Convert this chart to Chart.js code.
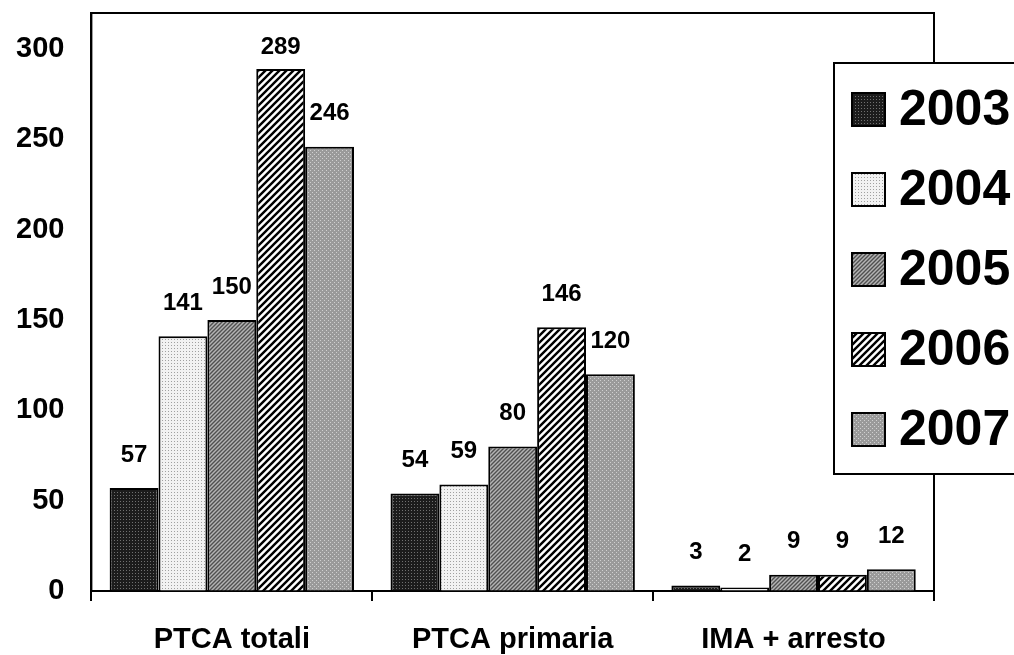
<!DOCTYPE html>
<html>
<head>
<meta charset="utf-8">
<title>PTCA 2003-2007</title>
<script src="https://cdn.jsdelivr.net/npm/chart.js@4/dist/chart.umd.min.js"></script>
<style>
  html, body { margin: 0; padding: 0; background: #fff; }
  #wrap { width: 1014px; height: 655px; }
</style>
</head>
<body>
<div id="wrap"><canvas id="ptcaChart" width="1014" height="655"></canvas></div>
<script>
// Chart data
const categories = ['PTCA totali', 'PTCA primaria', 'IMA + arresto'];
const years = ['2003', '2004', '2005', '2006', '2007'];
const v2003 = [57, 54, 3];
const v2004 = [141, 59, 2];
const v2005 = [150, 80, 9];
const v2006 = [289, 146, 9];
const v2007 = [246, 120, 12];
const yTicks = [0, 50, 100, 150, 200, 250, 300];

const FONT = '"Liberation Sans", Arial, Helvetica, sans-serif';

// small tiled fills that mimic the printed hatching
function makePattern(size, bg, fg, kind, lw) {
    const c = document.createElement('canvas');
    c.width = c.height = size;
    const g = c.getContext('2d');
    g.fillStyle = bg;
    g.fillRect(0, 0, size, size);
    g.fillStyle = fg;
    g.strokeStyle = fg;
    if (kind === 'dots') {
        g.fillRect(0, 0, 1, 1);
        if (size >= 4) g.fillRect(size / 2, size / 2, 1, 1);
    } else {
        g.lineWidth = lw || 1;
        g.beginPath();
        g.moveTo(-1, size + 1); g.lineTo(size + 1, -1);
        g.moveTo(-1, 1); g.lineTo(1, -1);
        g.moveTo(size - 1, size + 1); g.lineTo(size + 1, size - 1);
        g.stroke();
    }
    return g.createPattern(c, 'repeat');
}

const fills = [
    makePattern(3, '#1c1c1c', '#707070', 'dots'),
    makePattern(3, '#f2f2f2', '#a0a0a0', 'dots'),
    makePattern(4, '#b4b4b4', '#505050', 'diag', 1.4),
    makePattern(7, '#ffffff', '#000000', 'diag', 2.4),
    makePattern(4, '#9a9a9a', '#d0d0d0', 'dots')
];

const seriesValues = [v2003, v2004, v2005, v2006, v2007];

// value labels above each bar
const valueLabels = {
    id: 'valueLabels',
    afterDatasetsDraw(chart) {
        const ctx = chart.ctx;
        ctx.save();
        ctx.font = 'bold 24px ' + FONT;
        ctx.fillStyle = '#000';
        ctx.textAlign = 'center';
        ctx.textBaseline = 'middle';
        chart.data.datasets.forEach((ds, i) => {
            chart.getDatasetMeta(i).data.forEach((bar, j) => {
                const y = Math.max(bar.y - 33, 47);
                ctx.fillText(String(ds.data[j]), bar.x, y);
            });
        });
        ctx.restore();
    }
};

// plot frame (top + right edges) and the boxed legend overlapping it
const frameAndLegend = {
    id: 'frameAndLegend',
    afterDraw(chart) {
        const ctx = chart.ctx;
        const a = chart.chartArea;
        ctx.save();
        ctx.strokeStyle = '#000';
        ctx.lineWidth = 2;
        ctx.beginPath();
        ctx.moveTo(a.left, a.bottom);
        ctx.lineTo(a.left, a.top);
        ctx.lineTo(a.right, a.top);
        ctx.lineTo(a.right, a.bottom);
        ctx.stroke();

        // legend box
        const lx = 834, ly = 63, lh = 411;
        ctx.fillStyle = '#fff';
        ctx.fillRect(lx, ly, 200, lh);
        ctx.strokeRect(lx, ly, 200, lh);

        ctx.font = 'bold 50px ' + FONT;
        ctx.textAlign = 'left';
        ctx.textBaseline = 'middle';
        chart.data.datasets.forEach((ds, i) => {
            const cy = 110 + i * 80;
            ctx.fillStyle = ds.backgroundColor;
            ctx.fillRect(852, cy - 17, 33, 33);
            ctx.strokeRect(852, cy - 17, 33, 33);
            ctx.fillStyle = '#000';
            ctx.fillText(ds.label, 899, cy + 1);
        });
        ctx.restore();
    }
};

new Chart(document.getElementById('ptcaChart'), {
    type: 'bar',
    data: {
        labels: categories,
        datasets: years.map((y, i) => ({
            label: y,
            data: seriesValues[i],
            backgroundColor: fills[i],
            borderColor: '#000',
            borderWidth: 2,
            categoryPercentage: 0.87,
            barPercentage: 1.0
        }))
    },
    options: {
        responsive: false,
        animation: false,
        layout: { padding: { left: 16, right: 80, top: 13, bottom: 0 } },
        plugins: {
            legend: { display: false },
            tooltip: { enabled: false }
        },
        scales: {
            x: {
                afterFit: scale => { scale.height = 64; },
                grid: {
                    display: true,
                    drawOnChartArea: false,
                    drawTicks: true,
                    tickLength: 10,
                    color: '#000',
                    lineWidth: 2
                },
                border: { display: true, color: '#000', width: 2 },
                ticks: {
                    color: '#000',
                    padding: 30,
                    font: { family: FONT, size: 29, weight: 'bold', lineHeight: 0.6 }
                }
            },
            y: {
                min: 0,
                max: 320,
                afterBuildTicks: scale => {
                    scale.ticks = yTicks.map(v => ({ value: v }));
                },
                grid: {
                    display: true,
                    drawOnChartArea: false,
                    drawTicks: true,
                    tickLength: 27,
                    tickColor: 'rgba(0,0,0,0)'
                },
                border: { display: true, color: '#000', width: 2 },
                ticks: {
                    color: '#000',
                    padding: 0,
                    font: { family: FONT, size: 29, weight: 'bold', lineHeight: 0.8 }
                }
            }
        }
    },
    plugins: [valueLabels, frameAndLegend]
});
</script>
</body>
</html>
